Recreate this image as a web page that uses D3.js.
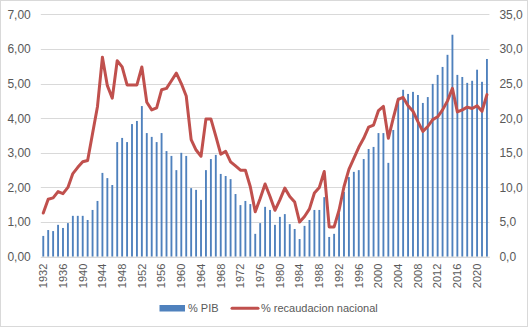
<!DOCTYPE html>
<meta charset="utf-8">
<script src="https://cdn.jsdelivr.net/npm/d3@7"></script>
<style>
    body { margin: 0; background: #fff; }
    text { font-family: "Liberation Sans", Arial, sans-serif; fill: #595959; }
</style>
<div id="chart"></div>
<script>
    // years 1932..2022
    var years = d3.range(1932, 2023);

    // % PIB (left axis)
    var pib = [
        0.60, 0.77, 0.74, 0.92, 0.83, 0.97, 1.18, 1.18, 1.18, 1.06,
        1.35, 1.61, 2.42, 2.27, 2.07, 3.31, 3.43, 3.31, 3.83, 3.92,
        4.35, 3.57, 3.46, 3.31, 3.57, 3.05, 2.91, 2.50, 3.00, 2.91,
        1.98, 1.93, 1.64, 2.50, 2.82, 2.94, 2.39, 2.33, 2.24, 1.81,
        1.49, 1.61, 1.52, 0.66, 0.97, 1.44, 1.35, 0.92, 1.15, 1.23,
        0.94, 0.80, 0.51, 0.89, 1.06, 1.35, 1.35, 1.72, 0.57, 0.66,
        1.26, 1.87, 2.30, 2.45, 2.50, 2.82, 3.11, 3.17, 3.57, 3.57,
        2.71, 3.66, 4.59, 4.82, 4.70, 4.76, 4.67, 4.44, 4.61, 4.99,
        5.25, 5.48, 5.83, 6.41, 5.25, 5.19, 5.02, 5.08, 5.40, 5.05,
        5.71
    ];

    // % recaudacion nacional (right axis)
    var recaudacion = [
        6.3, 8.3, 8.5, 9.4, 9.1, 10.0, 12.0, 12.9, 13.7, 13.9,
        17.8, 21.7, 28.8, 24.7, 22.9, 28.3, 27.4, 24.8, 24.8, 24.8,
        27.4, 22.3, 21.2, 21.5, 24.1, 24.3, 25.4, 26.5, 25.0, 23.2,
        16.9, 15.4, 14.5, 19.9, 19.9, 17.4, 14.8, 15.2, 13.7, 13.1,
        12.5, 12.5, 10.1, 6.5, 8.4, 10.5, 8.7, 6.7, 8.2, 9.9,
        8.7, 7.9, 5.0, 5.8, 6.9, 9.2, 10.0, 12.3, 4.3, 4.3,
        6.7, 10.1, 12.6, 14.2, 15.8, 17.1, 18.7, 19.0, 21.1, 21.7,
        17.1, 20.0, 22.7, 23.0, 21.8, 21.0, 19.5, 18.1, 18.8, 19.8,
        20.2, 21.2, 22.5, 24.3, 20.9, 21.2, 21.6, 21.4, 21.8, 21.0,
        23.4
    ];

    var leftTicks = [0, 1, 2, 3, 4, 5, 6, 7];
    var rightTicks = [0, 5, 10, 15, 20, 25, 30, 35];
    var tickYears = years.filter(function(y) { return (y - 1932) % 4 === 0; });

    var W = 530, H = 328;
    var plot = { left: 40.8, right: 489.4, top: 14.3, bottom: 256.7 };

    var svg = d3.select("#chart")
        .append("svg")
        .attr("width", W)
        .attr("height", H);

    // chart border
    svg.append("rect")
        .attr("x", 0.5).attr("y", 0.5)
        .attr("width", W - 3).attr("height", H - 2)
        .attr("fill", "#fff")
        .attr("stroke", "#d9d9d9");

    var x = d3.scaleBand()
        .domain(years)
        .range([plot.left, plot.right])
        .paddingInner(0.62)
        .paddingOuter(0.31);

    var yL = d3.scaleLinear().domain([0, 7]).range([plot.bottom, plot.top]);
    var yR = d3.scaleLinear().domain([0, 35]).range([plot.bottom, plot.top]);

    var comma = function(f) { return function(v) { return f(v).replace(".", ","); }; };

    // gridlines
    svg.append("g")
        .selectAll("line")
        .data(leftTicks)
        .enter()
        .append("line")
        .attr("x1", plot.left)
        .attr("x2", plot.right)
        .attr("y1", function(d) { return Math.round(yL(d)) + 0.5; })
        .attr("y2", function(d) { return Math.round(yL(d)) + 0.5; })
        .attr("stroke", "#d9d9d9")
        .attr("stroke-width", 1);

    // left axis
    var left = svg.append("g")
        .attr("transform", "translate(" + plot.left + ",0)")
        .call(d3.axisLeft(yL).tickValues(leftTicks).tickSize(0).tickPadding(10)
            .tickFormat(comma(d3.format(".2f"))));
    left.select(".domain").remove();
    left.selectAll("text").style("font-size", "12px").attr("fill", "#595959");

    // right axis
    var right = svg.append("g")
        .attr("transform", "translate(" + plot.right + ",0)")
        .call(d3.axisRight(yR).tickValues(rightTicks).tickSize(0).tickPadding(10)
            .tickFormat(comma(d3.format(".1f"))));
    right.select(".domain").remove();
    right.selectAll("text").style("font-size", "12px").attr("fill", "#595959");

    // bars
    svg.append("g")
        .selectAll("rect")
        .data(years)
        .enter()
        .append("rect")
        .attr("x", function(d) { return x(d); })
        .attr("width", x.bandwidth())
        .attr("y", function(d, i) { return yL(pib[i]); })
        .attr("height", function(d, i) { return yL(0) - yL(pib[i]); })
        .attr("fill", "#4f81bd");

    // x axis
    var bottom = svg.append("g")
        .attr("transform", "translate(0," + plot.bottom + ")")
        .call(d3.axisBottom(x).tickValues(tickYears).tickSize(0).tickPadding(0));
    bottom.select(".domain")
        .attr("stroke", "#d9d9d9");
    bottom.selectAll("text")
        .style("font-size", "11px")
        .attr("fill", "#595959")
        .attr("text-anchor", "end")
        .attr("dy", null)
        .attr("transform", "translate(0,7) rotate(-90)")
        .attr("x", 0)
        .attr("y", 0)
        .attr("dy", "0.35em");

    // line
    var line = d3.line()
        .x(function(d, i) { return x(years[i]) + x.bandwidth() / 2; })
        .y(function(d) { return yR(d); });

    svg.append("path")
        .datum(recaudacion)
        .attr("d", line)
        .attr("fill", "none")
        .attr("stroke", "#c0504d")
        .attr("stroke-width", 3)
        .attr("stroke-linejoin", "round")
        .attr("stroke-linecap", "round");

    // legend
    var legend = svg.append("g");
    legend.append("rect")
        .attr("x", 159.5).attr("y", 305)
        .attr("width", 25.5).attr("height", 6.5)
        .attr("fill", "#4f81bd");
    legend.append("text")
        .attr("x", 188).attr("y", 308.5)
        .attr("dy", "0.35em")
        .style("font-size", "11px")
        .text("% PIB");
    legend.append("line")
        .attr("x1", 232).attr("x2", 258)
        .attr("y1", 308.3).attr("y2", 308.3)
        .attr("stroke", "#c0504d")
        .attr("stroke-width", 3)
        .attr("stroke-linecap", "round");
    legend.append("text")
        .attr("x", 261).attr("y", 308.5)
        .attr("dy", "0.35em")
        .style("font-size", "11px")
        .text("% recaudacion nacional");
</script>
